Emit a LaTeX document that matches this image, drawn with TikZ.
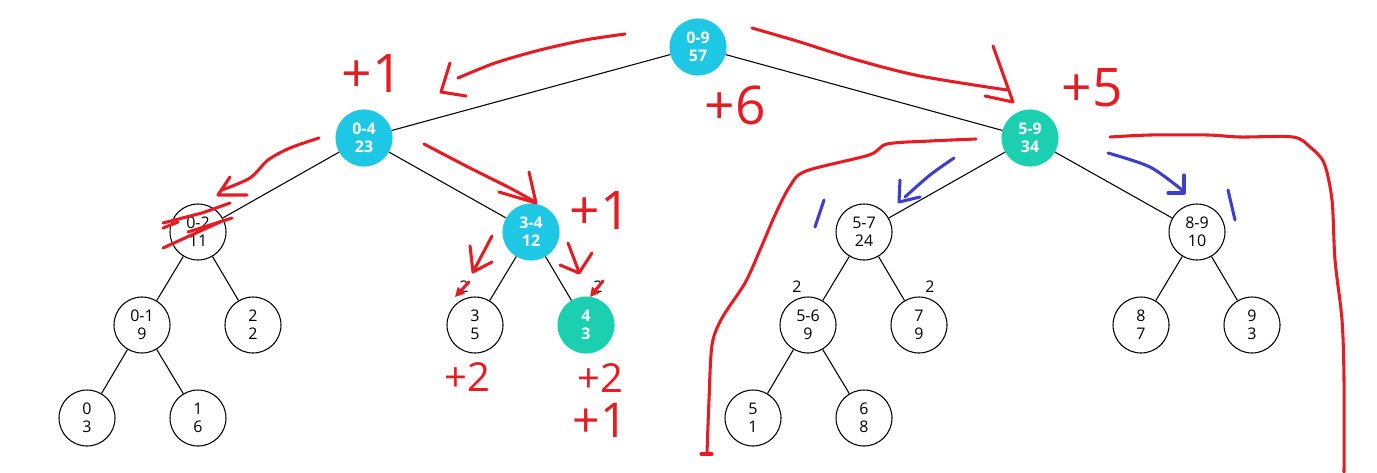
\documentclass[tikz,border=0pt]{standalone}
\usepackage{fontspec}
\setmainfont{Open Sans}
\usetikzlibrary{arrows.meta}
\definecolor{segcyan}{RGB}{30,200,228}
\definecolor{segteal}{RGB}{27,207,176}
\definecolor{penred}{RGB}{228,28,36}
\definecolor{penblue}{RGB}{62,62,200}

\begin{document}
\begin{tikzpicture}[x=0.75pt,y=-0.75pt,
		pen/.style={penred,line width=2.3pt,line cap=round,line join=round},
		bluepen/.style={penblue,line width=2.3pt,line cap=round,line join=round},
		hand/.style={penred,inner sep=0pt,font=\fontsize{#1}{#1}\selectfont},
		hand/.default=40]
	\useasboundingbox (0,0) rectangle (1377,472);
		\begin{scope}[every node/.style={circle,draw,line width=0.8pt,minimum size=42pt,inner sep=0pt,align=center,font=\fontsize{12}{13.5}\selectfont},
				hotcyan/.style={fill=segcyan,draw=segcyan,text=white,font=\fontsize{12}{13.5}\selectfont\bfseries},
				hotteal/.style={fill=segteal,draw=segteal,text=white,font=\fontsize{12}{13.5}\selectfont\bfseries}]
			\node[hotcyan] (S09) at (698,47) {0-9\\57};
			\node[hotcyan] (S04) at (364,138) {0-4\\23};
			\node[hotteal] (S59) at (1030,138) {5-9\\34};
			\node (S02) at (198,232) {0-2\\11};
			\node[hotcyan] (S34) at (531,232) {3-4\\12};
			\node (S57) at (864,232) {5-7\\24};
			\node (S89) at (1197,232) {8-9\\10};
			\node (S01) at (142,325) {0-1\\9};
			\node (S2) at (253,325) {2\\2};
			\node (S3) at (475,325) {3\\5};
			\node[hotteal] (S4) at (586,325) {4\\3};
			\node (S56) at (808,325) {5-6\\9};
			\node (S7) at (919,325) {7\\9};
			\node (S8) at (1141,325) {8\\7};
			\node (S9) at (1252,325) {9\\3};
			\node (S0) at (87,418) {0\\3};
			\node (S1) at (198,418) {1\\6};
			\node (S5) at (753,418) {5\\1};
			\node (S6) at (864,418) {6\\8};
		\end{scope}
	\begin{scope}[every edge/.style={draw=black,line width=0.8pt}]
			\path (S09) edge (S04);
			\path (S09) edge (S59);
			\path (S04) edge (S02);
			\path (S04) edge (S34);
			\path (S59) edge (S57);
			\path (S59) edge (S89);
			\path (S02) edge (S01);
			\path (S02) edge (S2);
			\path (S34) edge (S3);
			\path (S34) edge (S4);
			\path (S57) edge (S56);
			\path (S57) edge (S7);
			\path (S89) edge (S8);
			\path (S89) edge (S9);
			\path (S01) edge (S0);
			\path (S01) edge (S1);
			\path (S56) edge (S5);
			\path (S56) edge (S6);
		\end{scope}
	\begin{scope}[every node/.style={font=\fontsize{12}{12}\selectfont}]
			\node (L3) at (464,287) {2};
			\node (L4) at (598,287) {2};
			\node (L56) at (797,287) {2};
			\node (L7) at (930,287) {2};
		\end{scope}
	\begin{scope}
			\draw[pen] plot[smooth] coordinates {(625,34) (585,40) (540,50) (495,63) (458,78)};
			\draw[pen] (450,63) -- (441,92) -- (466,96);
			\draw[pen] plot[smooth] coordinates {(752,28) (800,42) (857,60) (920,76) (1007,90)};
			\draw[pen] (993,46) -- (1013,102) -- (985,96);
			\draw[pen] plot[smooth] coordinates {(319,138) (290,148) (268,160) (250,178) (222,190)};
			\draw[pen] (230,177) -- (218,195) -- (247,195);
			\draw[pen] (163,223) -- (202,213) -- (230,203);
			\draw[pen] (163,248) -- (220,222);
			\draw[pen] (188,232) -- (232,218);
			\draw[pen] (163,228) -- (178,222);
			\draw[pen] plot[smooth] coordinates {(424,144) (470,168) (510,188) (535,202)};
			\draw[pen] (529,172) -- (536,203) -- (499,192);
			\draw[pen] (492,236) -- (473,272);
			\draw[pen] (470,246) -- (473,272) -- (492,262);
			\draw[pen] (568,243) -- (579,272);
			\draw[pen] (560,265) -- (579,273) -- (592,253);
			\draw[pen,-{Triangle[length=7pt,width=7pt]}] (469,282) -- (455,297);
			\draw[pen,-{Triangle[length=7pt,width=7pt]}] (603,281) -- (590,297);
			\draw[pen] plot[smooth] coordinates {(976,139) (930,141) (887,144) (869,155) (806,171) (790,186) (775,215) (760,250) (745,283) (722,318) (712,345) (709,400) (707,453)};
			\draw[pen] (701,454) -- (712,454);
			\draw[pen] plot[smooth] coordinates {(1110,137) (1150,135) (1208,135) (1240,137) (1293,137) (1310,147) (1324,163) (1332,200) (1335,260) (1342,320) (1344,380) (1344,472)};
			\draw[bluepen] plot[smooth] coordinates {(954,158) (930,175) (905,197)};
			\draw[bluepen] (900,180) -- (899,202) -- (920,197);
			\draw[bluepen] plot[smooth] coordinates {(1108,153) (1150,167) (1182,190)};
			\draw[bluepen] (1184,175) -- (1184,193) -- (1168,193);
			\draw[bluepen] (824,200) -- (815,227);
			\draw[bluepen] (1228,190) -- (1235,220);
		\end{scope}
	\begin{scope}
			\node[hand] (P04) at (372,73) {+1};
			\node[hand] (P09) at (735,105) {+6};
			\node[hand] (P59) at (1092,88) {+5};
			\node[hand] (P34) at (600,210) {+1};
			\node[hand=30] (P3) at (467,377) {+2};
			\node[hand=30] (P4) at (600,378) {+2};
			\node[hand=36] (P4b) at (600,420) {+1};
		\end{scope}
	\end{tikzpicture}
\end{document}
